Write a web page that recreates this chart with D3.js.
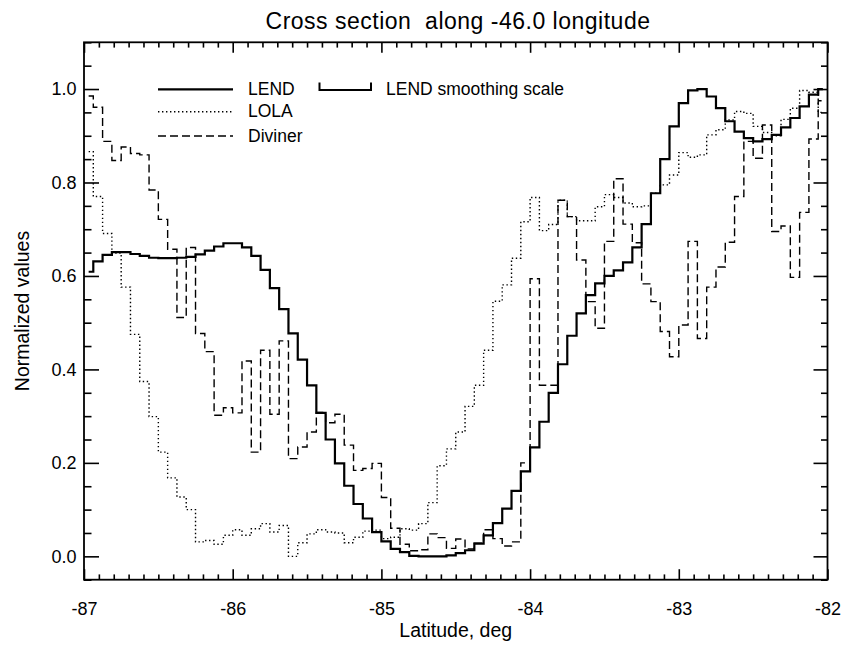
<!DOCTYPE html>
<html>
<head>
<meta charset="utf-8">
<script src="https://cdn.jsdelivr.net/npm/d3@7"></script>
<style>
  html, body { margin: 0; padding: 0; background: #fff; }
  svg { display: block; }
  text { font-family: "Liberation Sans", Arial, Helvetica, sans-serif; fill: #000; }
</style>
</head>
<body>
<svg id="chart" width="842" height="650"></svg>
<script>
// ---------------- data ----------------
const latitudes = [
  -86.96875,-86.90625,-86.84375,-86.78125,-86.71875,-86.65625,-86.59375,-86.53125,
  -86.46875,-86.40625,-86.34375,-86.28125,-86.21875,-86.15625,-86.09375,-86.03125,
  -85.96875,-85.90625,-85.84375,-85.78125,-85.71875,-85.65625,-85.59375,-85.53125,
  -85.46875,-85.40625,-85.34375,-85.28125,-85.21875,-85.15625,-85.09375,-85.03125,
  -84.96875,-84.90625,-84.84375,-84.78125,-84.71875,-84.65625,-84.59375,-84.53125,
  -84.46875,-84.40625,-84.34375,-84.28125,-84.21875,-84.15625,-84.09375,-84.03125,
  -83.96875,-83.90625,-83.84375,-83.78125,-83.71875,-83.65625,-83.59375,-83.53125,
  -83.46875,-83.40625,-83.34375,-83.28125,-83.21875,-83.15625,-83.09375,-83.03125,
  -82.96875,-82.90625,-82.84375,-82.78125,-82.71875,-82.65625,-82.59375,-82.53125,
  -82.46875,-82.40625,-82.34375,-82.28125,-82.21875,-82.15625,-82.09375,-82.03125
];
const lendValues = [
  0.609,0.631,0.645,0.651,0.651,0.647,0.643,0.639,0.638,0.638,0.639,0.641,0.646,0.654,0.663,0.670,
  0.670,0.661,0.643,0.613,0.574,0.529,0.477,0.421,0.366,0.307,0.250,0.199,0.151,0.112,0.081,0.052,
  0.032,0.016,0.009,0.001,0.000,0.000,0.000,0.002,0.007,0.013,0.027,0.045,0.071,0.102,0.140,0.182,
  0.233,0.288,0.350,0.411,0.472,0.520,0.559,0.584,0.600,0.612,0.629,0.661,0.711,0.777,0.850,0.920,
  0.970,0.997,1.000,0.984,0.959,0.931,0.909,0.895,0.888,0.893,0.902,0.918,0.938,0.963,0.988,1.000
];
const lolaValues = [
  0.866,0.770,0.691,0.649,0.576,0.475,0.374,0.299,0.223,0.168,0.127,0.100,0.031,0.034,0.026,0.045,
  0.057,0.045,0.059,0.070,0.052,0.066,0.000,0.029,0.048,0.057,0.052,0.050,0.029,0.041,0.054,0.056,
  0.038,0.041,0.059,0.056,0.070,0.115,0.194,0.230,0.266,0.321,0.366,0.441,0.546,0.581,0.638,0.716,
  0.768,0.697,0.710,0.762,0.727,0.718,0.718,0.748,0.774,0.768,0.756,0.748,0.750,0.777,0.795,0.816,
  0.864,0.854,0.859,0.902,0.913,0.934,0.952,0.948,0.920,0.907,0.900,0.935,0.959,0.997,0.993,0.950
];
const divinerValues = [
  0.985,0.961,0.888,0.847,0.876,0.862,0.859,0.784,0.721,0.657,0.511,0.661,0.477,0.438,0.302,0.318,
  0.307,0.418,0.223,0.441,0.304,0.461,0.209,0.234,0.266,0.308,0.286,0.304,0.238,0.184,0.188,0.199,
  0.126,0.060,0.026,0.012,0.014,0.048,0.040,0.017,0.037,0.016,0.028,0.057,0.038,0.022,0.031,0.200,
  0.594,0.366,0.366,0.762,0.727,0.634,0.545,0.488,0.674,0.808,0.711,0.671,0.583,0.545,0.481,0.427,
  0.495,0.674,0.466,0.576,0.619,0.672,0.770,0.888,0.852,0.923,0.695,0.707,0.597,0.736,0.893,0.975
];
const xTickValues = [-87, -86, -85, -84, -83, -82];
const xTickLabels = ["-87", "-86", "-85", "-84", "-83", "-82"];
const yTickValues = [0.0, 0.2, 0.4, 0.6, 0.8, 1.0];
const yTickLabels = ["0.0", "0.2", "0.4", "0.6", "0.8", "1.0"];
const seriesNames = ["LEND", "LOLA", "Diviner"];
const titleText = "Cross section  along -46.0 longitude";
const xAxisTitle = "Latitude, deg";
const yAxisTitle = "Normalized values";
const smoothingLabel = "LEND smoothing scale";

// ---------------- layout ----------------
const svg = d3.select("#chart");
const L = 84, R = 827.5, T = 42.3, B = 579.7;
const x = d3.scaleLinear().domain([-87, -82]).range([L, R]);
const y = d3.scaleLinear().domain([-0.05, 1.1]).range([B, T]);

const xMinor = d3.range(-87, -81.99, 0.1).map(v => +v.toFixed(2)).filter(v => !xTickValues.some(t => Math.abs(t - v) < 1e-6));
const yMinor = d3.range(-0.05, 1.1001, 0.05).map(v => +v.toFixed(2)).filter(v => !yTickValues.some(t => Math.abs(t - v) < 1e-6));

function styleAxis(g) {
  g.select(".domain").remove();
  g.selectAll("line").attr("stroke", "#000").attr("stroke-width", 1.6);
  g.selectAll("text").attr("font-size", "18px").attr("font-family", "Liberation Sans, Arial, sans-serif").attr("fill", "#000");
}

// bottom axis (major with labels, minor)
svg.append("g").attr("transform", `translate(0,${B})`)
  .call(d3.axisBottom(x).tickValues(xTickValues).tickSize(-10.5).tickPadding(22.5)
    .tickFormat((d, i) => xTickLabels[i]))
  .call(styleAxis);
svg.append("g").attr("transform", `translate(0,${B})`)
  .call(d3.axisBottom(x).tickValues(xMinor).tickSize(-5.3).tickFormat(""))
  .call(styleAxis);
// top axis
svg.append("g").attr("transform", `translate(0,${T})`)
  .call(d3.axisTop(x).tickValues(xTickValues).tickSize(-10.5).tickFormat(""))
  .call(styleAxis);
svg.append("g").attr("transform", `translate(0,${T})`)
  .call(d3.axisTop(x).tickValues(xMinor).tickSize(-5.3).tickFormat(""))
  .call(styleAxis);
// left axis
svg.append("g").attr("transform", `translate(${L},0)`)
  .call(d3.axisLeft(y).tickValues(yTickValues).tickSize(-15).tickPadding(7.5)
    .tickFormat((d, i) => yTickLabels[i]))
  .call(styleAxis);
svg.append("g").attr("transform", `translate(${L},0)`)
  .call(d3.axisLeft(y).tickValues(yMinor).tickSize(-7.5).tickFormat(""))
  .call(styleAxis);
// right axis
svg.append("g").attr("transform", `translate(${R},0)`)
  .call(d3.axisRight(y).tickValues(yTickValues).tickSize(-14).tickFormat(""))
  .call(styleAxis);
svg.append("g").attr("transform", `translate(${R},0)`)
  .call(d3.axisRight(y).tickValues(yMinor).tickSize(-6.5).tickFormat(""))
  .call(styleAxis);

// frame
svg.append("rect").attr("x", L).attr("y", T).attr("width", R - L).attr("height", B - T)
  .attr("fill", "none").attr("stroke", "#000").attr("stroke-width", 1.8);

// ---------------- series ----------------
const line = d3.line().x(d => x(d[0])).y(d => y(d[1])).curve(d3.curveStep);
const mk = vals => latitudes.map((lat, i) => [lat, vals[i]]);

const styles = {
  LEND:    { w: 2.2, dash: null },
  LOLA:    { w: 1.4, dash: "1.4,2.6" },
  Diviner: { w: 1.4, dash: "8,4" }
};
const seriesData = { LEND: lendValues, LOLA: lolaValues, Diviner: divinerValues };

["LOLA", "Diviner", "LEND"].forEach(name => {
  svg.append("path").datum(mk(seriesData[name]))
    .attr("d", line).attr("fill", "none").attr("stroke", "#000")
    .attr("stroke-width", styles[name].w)
    .attr("stroke-dasharray", styles[name].dash)
    .attr("stroke-linejoin", "miter");
});

// ---------------- legend ----------------
const legendRows = [89.3, 111.7, 136];
seriesNames.forEach((name, i) => {
  svg.append("line").attr("x1", 158).attr("x2", 233).attr("y1", legendRows[i]).attr("y2", legendRows[i])
    .attr("stroke", "#000").attr("stroke-width", styles[name].w)
    .attr("stroke-dasharray", styles[name].dash);
  svg.append("text").attr("x", 248).attr("y", legendRows[i] + 5.6)
    .attr("font-size", "17.5px").text(name);
});
svg.append("path").attr("d", "M319.5,82.5V90H371V82.5")
  .attr("fill", "none").attr("stroke", "#000").attr("stroke-width", 2);
svg.append("text").attr("x", 386).attr("y", 94.9).attr("font-size", "17.5px").text(smoothingLabel);

// ---------------- titles ----------------
svg.append("text").attr("x", 458).attr("y", 28.5).attr("text-anchor", "middle")
  .attr("font-size", "23px").attr("letter-spacing", "0.5px")
  .attr("xml:space", "preserve").style("white-space", "pre").text(titleText);
svg.append("text").attr("x", (L + R) / 2).attr("y", 637).attr("text-anchor", "middle")
  .attr("font-size", "19.5px").text(xAxisTitle);
svg.append("text").attr("transform", `translate(29,${(T + B) / 2}) rotate(-90)`)
  .attr("text-anchor", "middle").attr("font-size", "19.5px").text(yAxisTitle);
</script>
</body>
</html>
